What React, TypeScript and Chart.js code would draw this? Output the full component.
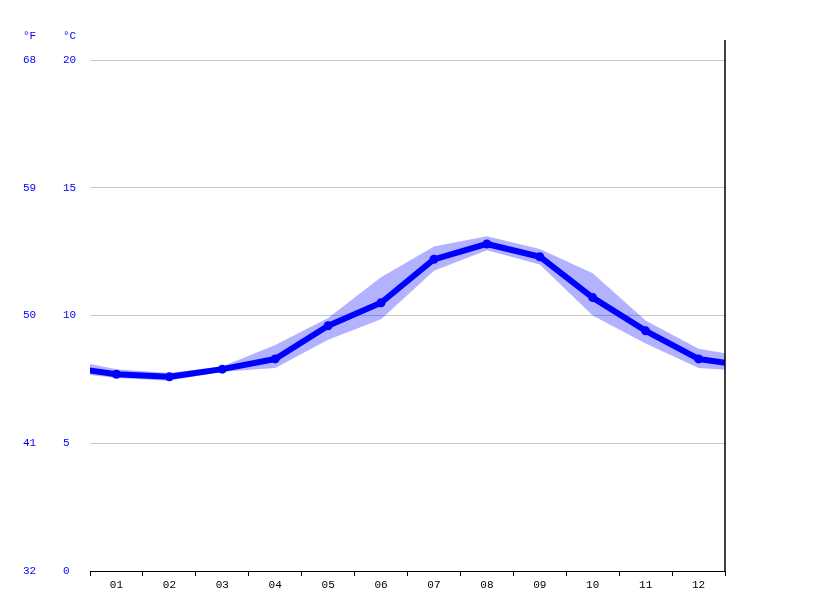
import React, { useEffect, useRef } from 'react';
import { Chart, registerables } from 'chart.js';

Chart.register(...registerables);

// month labels on the x axis
const monthLabels = ['01', '02', '03', '04', '05', '06', '07', '08', '09', '10', '11', '12'];

// water temperature in °C, one value per month
const meanTemp = [7.7, 7.6, 7.9, 8.3, 9.6, 10.5, 12.2, 12.8, 12.3, 10.7, 9.4, 8.3];
const maxTemp = [7.9, 7.75, 8.0, 8.85, 9.9, 11.5, 12.7, 13.1, 12.6, 11.65, 9.8, 8.7];
const minTemp = [7.55, 7.45, 7.8, 7.95, 9.05, 9.85, 11.75, 12.55, 12.0, 10.0, 8.9, 7.95];

// values where the curve meets the left and right edges (year wrap)
const edgeMean = [8.0, 8.0];
const edgeMax = [8.3, 8.35];
const edgeMin = [7.8, 7.8];

// tick values of the two y axes
const celsiusTicks = [0, 5, 10, 15, 20];
const fahrenheitTicks = [32, 41, 50, 59, 68];

const BLUE = '#0000ff';
const labelFont = { family: 'Liberation Mono', size: 11 };

const toPoints = (edge: number[], values: number[]) => [
  { x: 0, y: edge[0] },
  ...values.map((v, i) => ({ x: i + 1, y: v })),
  { x: values.length + 1, y: edge[1] },
];

// right border and the unit captions
const framePlugin = {
  id: 'frame',
  afterDraw(chart: any) {
    const { ctx, chartArea, scales } = chart;
    ctx.save();
    ctx.strokeStyle = '#000';
    ctx.lineWidth = 1.5;
    ctx.beginPath();
    ctx.moveTo(chartArea.right, chartArea.top - 20);
    ctx.lineTo(chartArea.right, chartArea.bottom);
    ctx.stroke();

    ctx.fillStyle = BLUE;
    ctx.font = `${labelFont.size}px "${labelFont.family}"`;
    ctx.textBaseline = 'middle';
    ctx.textAlign = 'left';
    ctx.fillText('°F', scales.yF.left, chartArea.top - 24);
    ctx.fillText('°C', scales.y.left, chartArea.top - 24);
    ctx.restore();
  },
};

const App: React.FC = () => {
  const canvasRef = useRef<HTMLCanvasElement>(null);

  useEffect(() => {
    if (!canvasRef.current) return;
    const chart = new Chart(canvasRef.current, {
      type: 'line',
      data: {
        datasets: [
          {
            data: toPoints(edgeMean, meanTemp),
            borderColor: BLUE,
            borderWidth: 6,
            borderJoinStyle: 'round',
            pointRadius: (c: any) => (c.dataIndex === 0 || c.dataIndex === meanTemp.length + 1 ? 0 : 4.5),
            pointBackgroundColor: BLUE,
            pointBorderWidth: 0,
            fill: false,
          },
          {
            data: toPoints(edgeMax, maxTemp),
            borderColor: 'transparent',
            borderWidth: 0,
            pointRadius: 0,
            backgroundColor: 'rgba(0, 0, 255, 0.3)',
            fill: '+1',
          },
          {
            data: toPoints(edgeMin, minTemp),
            borderColor: 'transparent',
            borderWidth: 0,
            pointRadius: 0,
            fill: false,
          },
        ],
      },
      options: {
        animation: false,
        responsive: true,
        maintainAspectRatio: false,
        layout: { padding: { left: 23, right: 90, top: 60, bottom: 0 } },
        plugins: {
          legend: { display: false },
          tooltip: { enabled: false },
        },
        scales: {
          x: {
            type: 'linear',
            min: 0.5,
            max: 12.5,
            afterBuildTicks: (scale: any) => {
              scale.ticks = monthLabels.map((_, i) => ({ value: i + 1 }));
            },
            afterFit: (scale: any) => {
              scale.height = 40;
            },
            ticks: {
              callback: (v: any) => monthLabels[Number(v) - 1] ?? '',
              color: '#000',
              font: { family: 'Liberation Mono', size: 11 },
              padding: 2,
              maxRotation: 0,
              autoSkip: false,
            },
            grid: {
              offset: true,
              drawOnChartArea: false,
              drawTicks: true,
              tickLength: 5,
              color: '#000',
            },
            border: { display: true, color: '#000', width: 1 },
          },
          y: {
            position: 'left',
            weight: 0,
            min: 0,
            max: 20,
            afterBuildTicks: (scale: any) => {
              scale.ticks = celsiusTicks.map((v) => ({ value: v }));
            },
            afterFit: (scale: any) => {
              scale.width = 27;
            },
            ticks: {
              color: BLUE,
              font: labelFont,
              padding: 0,
              crossAlign: 'far',
            },
            grid: {
              drawTicks: false,
              color: (c: any) => (c.tick && c.tick.value === 0 ? 'rgba(0,0,0,0)' : '#c8c8c8'),
            },
            border: { display: false },
          },
          yF: {
            position: 'left',
            weight: 1,
            min: 32,
            max: 68,
            afterBuildTicks: (scale: any) => {
              scale.ticks = fahrenheitTicks.map((v) => ({ value: v }));
            },
            afterFit: (scale: any) => {
              scale.width = 40;
            },
            ticks: {
              color: BLUE,
              font: labelFont,
              padding: 0,
              crossAlign: 'far',
            },
            grid: { display: false, drawTicks: false },
            border: { display: false },
          },
        },
      },
      plugins: [framePlugin],
    } as any);

    return () => {
      chart.destroy();
    };
  }, []);

  return (
    <div style={{ position: 'absolute', left: 0, top: 0, width: '815px', height: '611px', background: '#fff' }}>
      <canvas ref={canvasRef} />
    </div>
  );
};

export default App;
